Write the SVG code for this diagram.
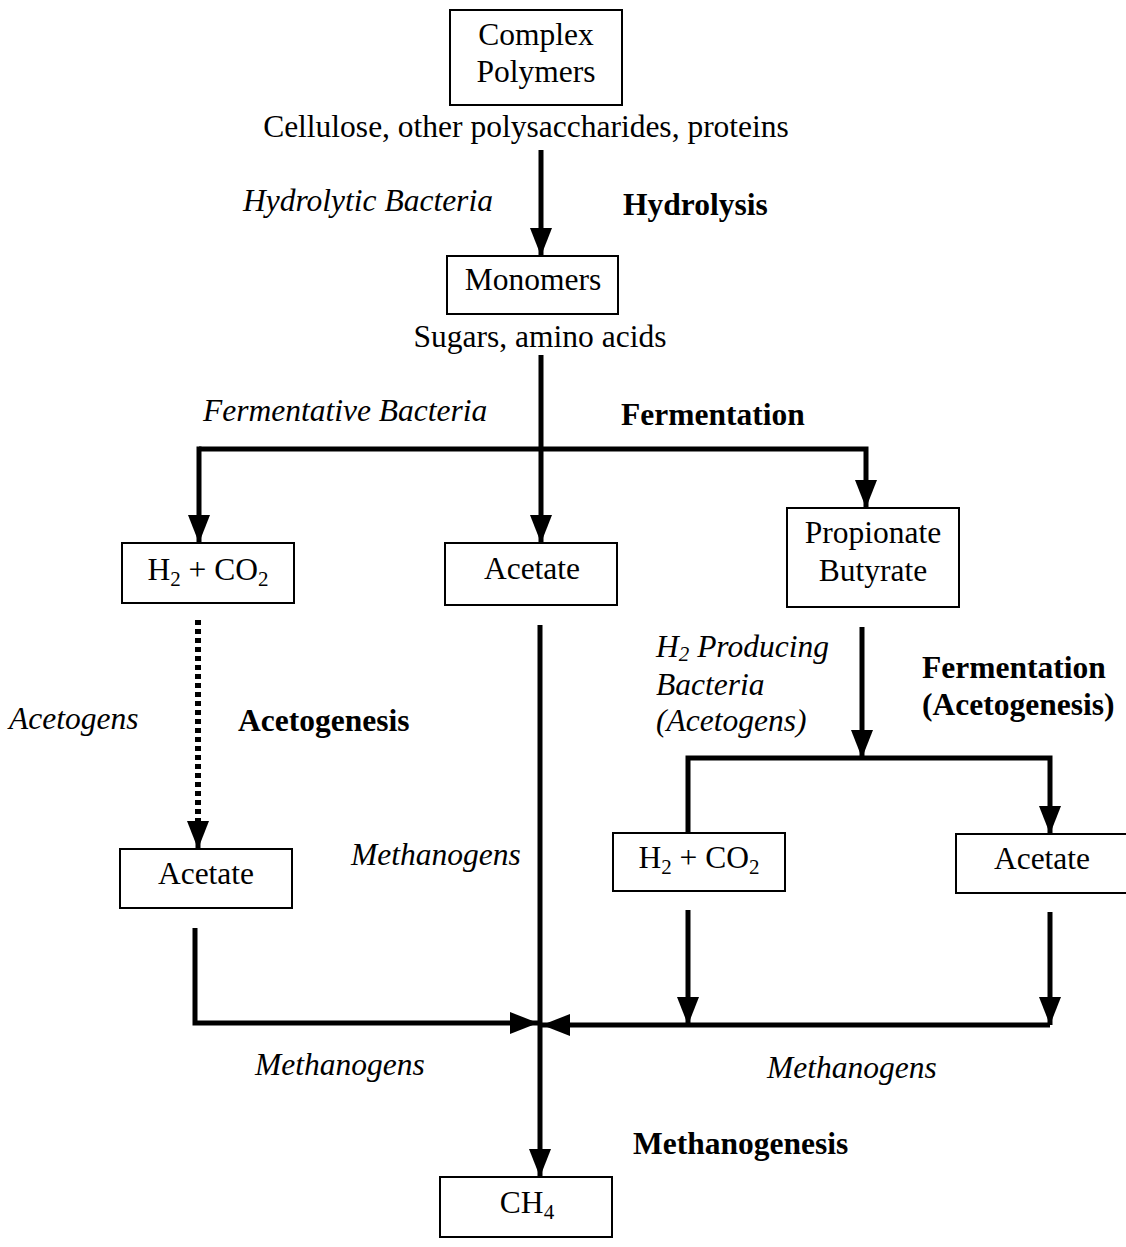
<svg xmlns="http://www.w3.org/2000/svg" width="1126" height="1247" viewBox="0 0 1126 1247">
<style>
text{font-family:"Liberation Serif","Times New Roman",serif;font-size:31.5px;fill:#000}
.c{text-anchor:middle}
.i{font-style:italic}
.b{font-weight:bold}
.s{font-size:21px}
.box{fill:#fff;stroke:#000;stroke-width:2}
.ln{fill:none;stroke:#000;stroke-width:5}
.dot{fill:none;stroke:#000;stroke-width:6;stroke-dasharray:5 4}
</style>
<defs>
<marker id="ah" markerUnits="userSpaceOnUse" markerWidth="30" markerHeight="22" refX="28" refY="11" orient="auto">
<path d="M0,0 L28,11 L0,22 z" fill="#000"/>
</marker>
</defs>
<rect width="1126" height="1247" fill="#fff"/>
<g id="connectors">
<line class="ln" x1="541" y1="150" x2="541" y2="256" marker-end="url(#ah)"/>
<line class="ln" x1="541" y1="355" x2="541" y2="543" marker-end="url(#ah)"/>
<polyline class="ln" points="199,449 866,449 866,508" marker-end="url(#ah)"/>
<line class="ln" x1="199" y1="446.5" x2="199" y2="543" marker-end="url(#ah)"/>
<line class="dot" x1="198" y1="620" x2="198" y2="822"/>
<line class="ln" x1="198" y1="818" x2="198" y2="849" marker-end="url(#ah)"/>
<line class="ln" x1="540" y1="625" x2="540" y2="1177" marker-end="url(#ah)"/>
<polyline class="ln" points="195,928 195,1023 538,1023" marker-end="url(#ah)"/>
<polyline class="ln" points="1050,1025 542,1025" marker-end="url(#ah)"/>
<line class="ln" x1="688" y1="910" x2="688" y2="1025" marker-end="url(#ah)"/>
<line class="ln" x1="1050" y1="912" x2="1050" y2="1025" marker-end="url(#ah)"/>
<line class="ln" x1="862" y1="627" x2="862" y2="758" marker-end="url(#ah)"/>
<polyline class="ln" points="688,833 688,758 1050,758 1050,834" marker-end="url(#ah)"/>
</g>
<g id="n-complex"><rect class="box" x="450" y="10" width="172" height="95"/><text class="c" x="536" y="45">Complex</text><text class="c" x="536" y="82">Polymers</text></g>
<g id="t-cellulose"><text class="c" x="526" y="137">Cellulose, other polysaccharides, proteins</text></g>
<g id="t-hydrolytic"><text class="i" x="243" y="211">Hydrolytic Bacteria</text></g>
<g id="t-hydrolysis"><text class="b" x="623" y="215">Hydrolysis</text></g>
<g id="n-monomers"><rect class="box" x="447" y="256" width="171" height="58"/><text class="c" x="533" y="290">Monomers</text></g>
<g id="t-sugars"><text class="c" x="540" y="347">Sugars, amino acids</text></g>
<g id="t-fermentative"><text class="i" x="203" y="421">Fermentative Bacteria</text></g>
<g id="t-fermentation1"><text class="b" x="621" y="425">Fermentation</text></g>
<g id="n-h2co2-left"><rect class="box" x="122" y="543" width="172" height="60"/><text class="c" x="208" y="580">H<tspan class="s" dy="6">2</tspan><tspan dy="-6"> + CO</tspan><tspan class="s" dy="6">2</tspan></text></g>
<g id="n-acetate-mid"><rect class="box" x="445" y="543" width="172" height="62"/><text class="c" x="532" y="579">Acetate</text></g>
<g id="n-propionate"><rect class="box" x="787" y="508" width="172" height="99"/><text class="c" x="873" y="543">Propionate</text><text class="c" x="873" y="581">Butyrate</text></g>
<g id="t-h2producing"><text class="i" x="656" y="657">H<tspan class="s" dy="4">2</tspan><tspan dy="-4"> Producing</tspan></text><text class="i" x="656" y="695">Bacteria</text><text class="i" x="656" y="731">(Acetogens)</text></g>
<g id="t-fermentation2"><text class="b" x="922" y="678">Fermentation</text><text class="b" x="922" y="715">(Acetogenesis)</text></g>
<g id="t-acetogens"><text class="i" x="9" y="729">Acetogens</text></g>
<g id="t-acetogenesis"><text class="b" x="238" y="731">Acetogenesis</text></g>
<g id="t-methanogens-mid"><text class="i" x="351" y="865">Methanogens</text></g>
<g id="n-acetate-left"><rect class="box" x="120" y="849" width="172" height="59"/><text class="c" x="206" y="884">Acetate</text></g>
<g id="n-h2co2-right"><rect class="box" x="613" y="833" width="172" height="58"/><text class="c" x="699" y="868">H<tspan class="s" dy="6">2</tspan><tspan dy="-6"> + CO</tspan><tspan class="s" dy="6">2</tspan></text></g>
<g id="n-acetate-right"><rect class="box" x="956" y="834" width="172" height="59"/><text class="c" x="1042" y="869">Acetate</text></g>
<g id="t-methanogens-left"><text class="i" x="255" y="1075">Methanogens</text></g>
<g id="t-methanogens-right"><text class="i" x="767" y="1078">Methanogens</text></g>
<g id="t-methanogenesis"><text class="b" x="633" y="1154">Methanogenesis</text></g>
<g id="n-ch4"><rect class="box" x="440" y="1177" width="172" height="60"/><text class="c" x="527" y="1213">CH<tspan class="s" dy="6">4</tspan></text></g>
</svg>
